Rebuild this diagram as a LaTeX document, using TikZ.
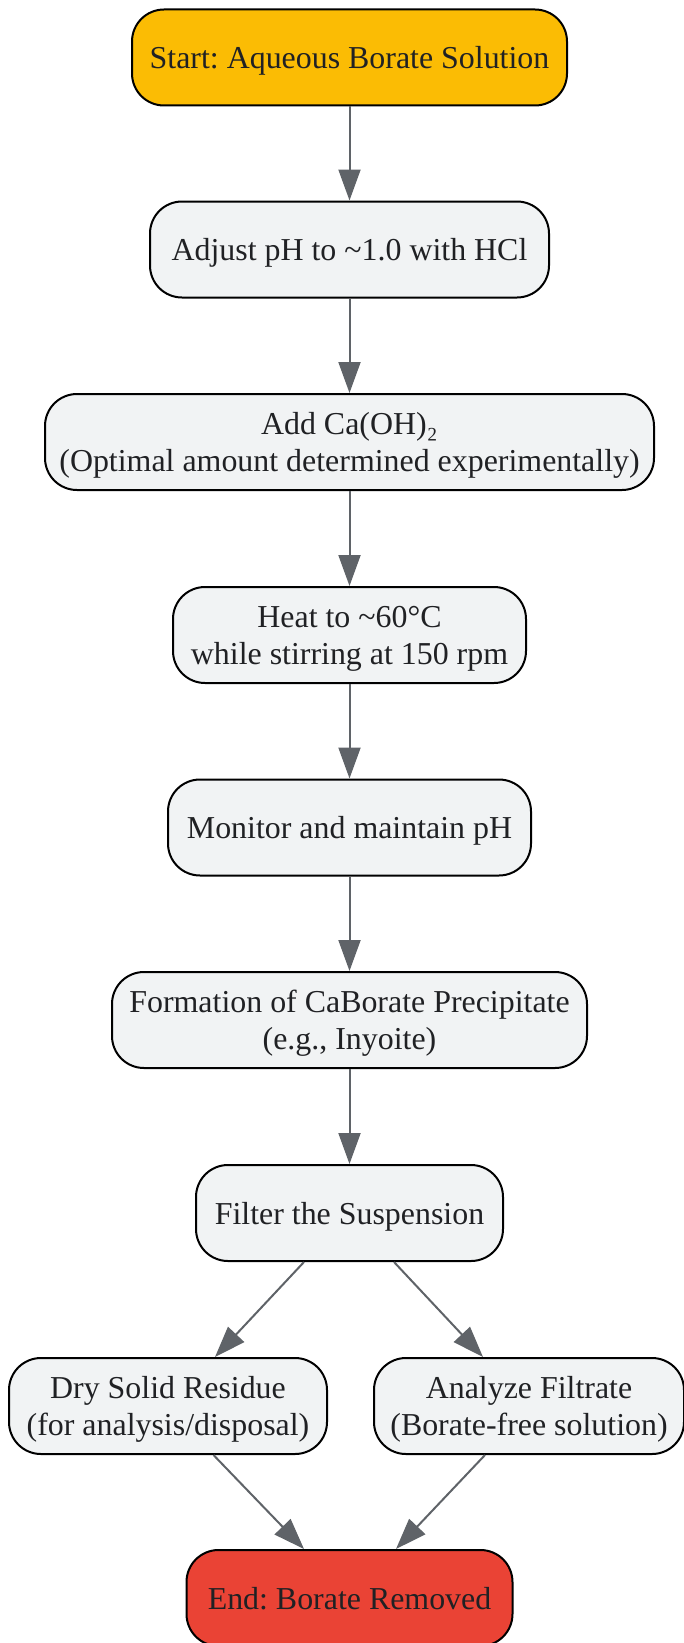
\documentclass[tikz,border=0pt]{standalone}
\usepackage{fontspec}
\setmainfont{Liberation Serif}
\usetikzlibrary{arrows.meta,calc}
\definecolor{txt}{HTML}{202124}
\definecolor{boxfill}{HTML}{F1F3F4}
\definecolor{startfill}{HTML}{FBBC04}
\definecolor{endfill}{HTML}{EA4335}
\definecolor{arrowcol}{HTML}{5F6368}
\frenchspacing
\tikzset{
  stepbox/.style={draw=black, line width=2pt, fill=boxfill, rounded corners=32pt,
    minimum height=96pt, inner sep=0pt, align=center, text=txt, text depth=0pt,
    font=\fontsize{31.9}{37}\selectfont},
  arr/.style={draw=arrowcol, line width=2pt, -{Triangle[length=31pt,width=22pt]}}
}
\begin{document}
\begin{tikzpicture}[x=1pt,y=-1pt]
\useasboundingbox (0,0) rectangle (684,1643);
\node[stepbox, fill=startfill, minimum width=435pt] (n1) at (349.5,57.5) {Start: Aqueous Borate Solution};
\node[stepbox, minimum width=399pt] (n2) at (349.5,249.5) {Adjust pH to \textasciitilde1.0 with HCl};
\node[stepbox, minimum width=609pt] (n3) at (349.5,442) {Add Ca(OH)₂\\(Optimal amount determined experimentally)};
\node[stepbox, minimum width=353pt] (n4) at (349.5,635) {Heat to \textasciitilde60°C\\while stirring at 150 rpm};
\node[stepbox, minimum width=363pt] (n5) at (349.5,827.5) {Monitor and maintain pH};
\node[stepbox, minimum width=475pt] (n6) at (349.5,1020) {Formation of CaBorate Precipitate\\(e.g., Inyoite)};
\node[stepbox, minimum width=307pt] (n7) at (349.5,1213) {Filter the Suspension};
\node[stepbox, minimum width=318pt] (n8) at (168,1406) {Dry Solid Residue\\(for analysis/disposal)};
\node[stepbox, minimum width=310pt] (n9) at (529,1406) {Analyze Filtrate\\(Borate-free solution)};
\node[stepbox, fill=endfill, minimum width=326pt] (n10) at (349.5,1598) {End: Borate Removed};
\draw[arr] (n1) -- (n2);
\draw[arr] (n2) -- (n3);
\draw[arr] (n3) -- (n4);
\draw[arr] (n4) -- (n5);
\draw[arr] (n5) -- (n6);
\draw[arr] (n6) -- (n7);
\draw[arr] ($(n7.south)+(-45.5,0)$) -- ($(n8.north)+(47,0)$);
\draw[arr] ($(n7.south)+(44.5,0)$) -- ($(n9.north)+(-46,0)$);
\draw[arr] ($(n8.south)+(45.5,0)$) -- ($(n10.north)+(-45.5,0)$);
\draw[arr] ($(n9.south)+(-44,0)$) -- ($(n10.north)+(46.5,0)$);
\end{tikzpicture}
\end{document}
